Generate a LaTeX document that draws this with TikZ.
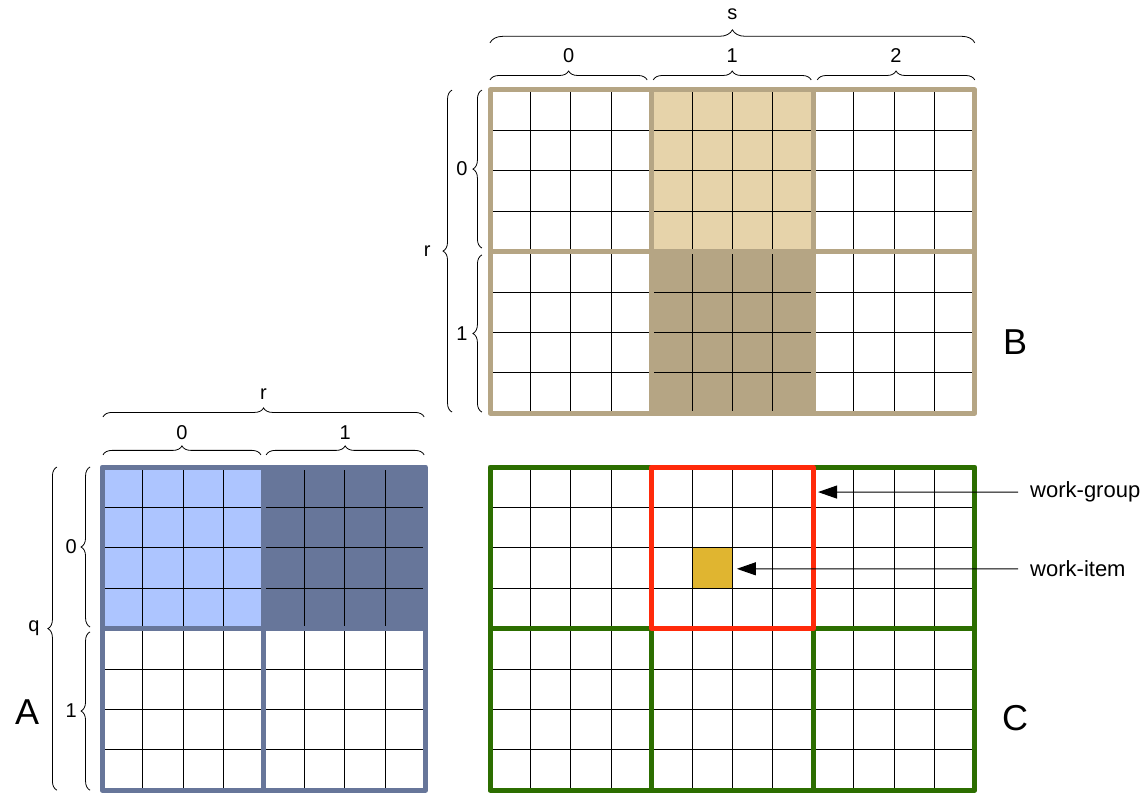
\documentclass[tikz,border=0pt]{standalone}
\usepackage{fontspec}
\setmainfont{Liberation Sans}
\usetikzlibrary{arrows.meta, decorations.pathreplacing}

\definecolor{tanline}{HTML}{B5A584}
\definecolor{tanlight}{HTML}{E6D3AA}
\definecolor{slate}{HTML}{67769A}
\definecolor{bluelight}{HTML}{ADC5FF}
\definecolor{grpgreen}{HTML}{2C6E00}
\definecolor{grpred}{HTML}{FF2A0A}
\definecolor{itemgold}{HTML}{E0B530}

\begin{document}
\begin{tikzpicture}[
  x=40.4pt, y=40.4pt,
  cellgrid/.style={line width=0.8pt, black, step=1},
  border/.style={line width=5pt, line join=round},
  brc/.style={decorate, decoration={brace, amplitude=9pt}, line width=0.8pt},
  lbl/.style={font=\fontsize{20}{24}\selectfont, inner sep=0pt},
  note/.style={font=\fontsize{22}{26}\selectfont, anchor=west, inner xsep=12pt, inner ysep=4pt},
  big/.style={font=\fontsize{36}{40}\selectfont, inner sep=0pt},
  >={Triangle[length=19pt, width=13pt]}
]
\useasboundingbox (-12.129,-8.094) rectangle (16.089,11.56);

% matrix B
\begin{scope}[shift={(0,1.333)}]
  \fill[tanlight] (4,4) rectangle (8,8);
  \fill[tanline] (4,0) rectangle (8,4);
  \draw[cellgrid] (0,0) grid (12,8);
  \draw[border, tanline] (0,0) rectangle (12,8);
  \draw[border, tanline] (0,4) -- (12,4) (4,0) -- (4,8) (8,0) -- (8,8);
\end{scope}

% matrix A
\begin{scope}[shift={(-9.6,-8)}]
  \fill[bluelight] (0,4) rectangle (4,8);
  \fill[slate] (4,4) rectangle (8,8);
  \draw[cellgrid] (0,0) grid (8,8);
  \draw[border, slate] (0,0) rectangle (8,8);
  \draw[border, slate] (0,4) -- (8,4) (4,0) -- (4,8);
\end{scope}

% matrix C
\begin{scope}[shift={(0,-8)}]
  \fill[itemgold] (5,5) rectangle (6,6);
  \draw[cellgrid] (0,0) grid (12,8);
  \draw[border, grpgreen] (0,0) rectangle (12,8);
  \draw[border, grpgreen] (0,4) -- (12,4) (4,0) -- (4,8) (8,0) -- (8,8);
  \draw[border, grpred] (4,4) rectangle (8,8);
  \coordinate (wgtip) at (8.12,7.38);
  \coordinate (witip) at (6.11,5.48);
\end{scope}

% braces of B
\draw[brc] (0,9.58) -- (3.89,9.58) node[lbl, midway, above=17pt] (bs0) {0};
\draw[brc] (4.04,9.58) -- (7.95,9.58) node[lbl, midway, above=17pt] (bs1) {1};
\draw[brc] (8.1,9.58) -- (12,9.58) node[lbl, midway, above=17pt] (bs2) {2};
\draw[brc, decoration={amplitude=13pt}] (0,10.5) -- (12,10.5) node[lbl, midway, above=23pt] (bs) {s};
\draw[brc] (-0.2,5.42) -- (-0.2,9.33) node[lbl, midway, left=14pt] (br0) {0};
\draw[brc] (-0.2,1.36) -- (-0.2,5.25) node[lbl, midway, left=14pt] (br1) {1};
\draw[brc] (-0.94,1.36) -- (-0.94,9.33) node[lbl, midway, left=21pt] (br) {r};

% braces of A
\draw[brc] (-9.58,0.3) -- (-5.67,0.3) node[lbl, midway, above=15pt] (ar0) {0};
\draw[brc] (-5.54,0.3) -- (-1.63,0.3) node[lbl, midway, above=15pt] (ar1) {1};
\draw[brc] (-9.58,1.24) -- (-1.63,1.24) node[lbl, midway, above=17pt] (ar) {r};
\draw[brc] (-9.9,-3.96) -- (-9.9,0) node[lbl, midway, left=13pt] (aq0) {0};
\draw[brc] (-9.9,-8) -- (-9.9,-4.08) node[lbl, midway, left=13pt] (aq1) {1};
\draw[brc] (-10.72,-8) -- (-10.72,0) node[lbl, midway, left=17pt] (aq) {q};

% names
\node[big] (nameA) at (-11.46,-6.06) {A};
\node[big] (nameB) at (13.0,3.09) {B};
\node[big] (nameC) at (13.0,-6.21) {C};

% work-group / work-item
\node[note] (wg) at (13.07,-0.62) {work-group};
\node[note] (wi) at (13.07,-2.52) {work-item};
\draw[->, line width=1pt] (wg.west) -- (wgtip);
\draw[->, line width=1pt] (wi.west) -- (witip);
\end{tikzpicture}
\end{document}
